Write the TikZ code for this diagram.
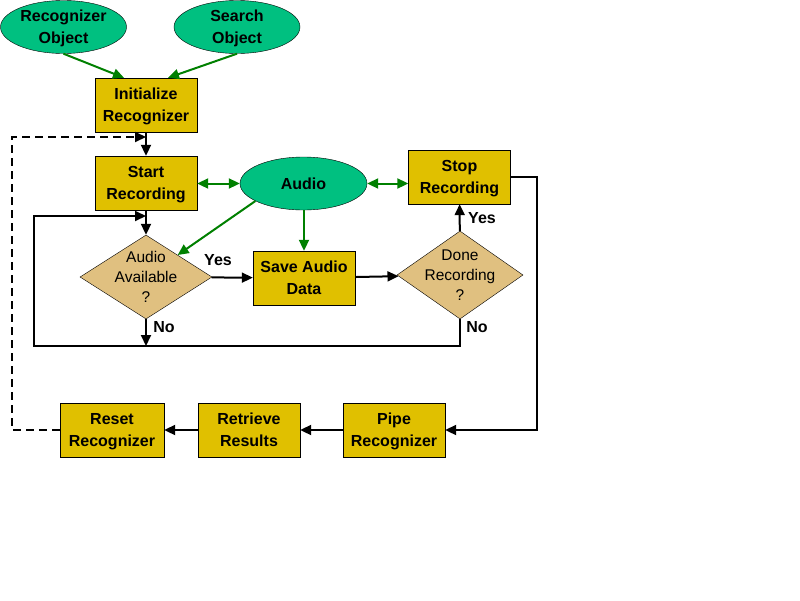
\documentclass[tikz,border=0pt]{standalone}
\usepackage{fontspec}
\setmainfont{Liberation Sans}
\usetikzlibrary{shapes.geometric, arrows.meta}
\definecolor{boxgold}{RGB}{224,192,0}
\definecolor{objgreen}{RGB}{0,192,128}
\definecolor{asktan}{RGB}{224,192,128}
\definecolor{linkgreen}{RGB}{0,128,0}
\tikzset{
  stepbox/.style={draw, fill=boxgold, minimum width=102pt, minimum height=54pt, inner sep=0pt, text depth=0pt, align=center, font=\fontsize{16}{22}\selectfont\bfseries},
  objnode/.style={draw, ellipse, fill=objgreen, minimum width=126pt, minimum height=53pt, inner sep=-2pt, text depth=0pt, align=center, font=\fontsize{16}{22}\selectfont\bfseries},
  asknode/.style={draw, diamond, fill=asktan, aspect=1.5, inner sep=-14pt, align=center, font=\fontsize{15.5}{20}\selectfont},
  answer/.style={inner sep=0pt, font=\fontsize{16}{20}\selectfont\bfseries},
  flow/.style={line width=2pt, -{Triangle[length=11pt,width=10pt]}},
  link/.style={line width=2pt, linkgreen, -{Triangle[length=11pt,width=10pt]}},
  bilink/.style={line width=2pt, linkgreen, {Triangle[length=11pt,width=10pt]}-{Triangle[length=11pt,width=10pt]}}
}
\begin{document}
\begin{tikzpicture}[x=1pt,y=-1pt]
    \useasboundingbox[fill=white] (0,0) rectangle (800,600);
    % objects
    \node[objnode] (recObj) at (63.5,27) {Recognizer\\Object};
    \node[objnode] (srchObj) at (237,27) {Search\\Object};
    \node[objnode, minimum width=127pt] (audio) at (303.5,183.5) {Audio};
    % steps
    \node[stepbox] (init) at (146,105) {Initialize\\Recognizer};
    \node[stepbox] (start) at (146,183) {Start\\Recording};
    \node[stepbox] (stopRec) at (459.5,177) {Stop\\Recording};
    \node[stepbox] (save) at (304,278) {Save Audio\\Data};
    \node[stepbox] (pipe) at (394,430) {Pipe\\Recognizer};
    \node[stepbox] (retrieve) at (249,430) {Retrieve\\Results};
    \node[stepbox, minimum width=104pt] (reset) at (112,430) {Reset\\Recognizer};
    % decisions
    \node[asknode, minimum width=132pt, minimum height=84pt] (avail) at (146,277) {Audio\\Available\\?};
    \node[asknode, minimum width=126pt, minimum height=88pt] (done) at (460,275) {Done\\Recording\\?};
    % answers
    \node[answer] (yesAvail) at (218,260) {Yes};
    \node[answer] (noAvail) at (164,327) {No};
    \node[answer] (yesDone) at (482,218) {Yes};
    \node[answer] (noDone) at (477,327) {No};
    % corners
    \coordinate (loopBL) at (34,346);
    \coordinate (loopTL) at (34,216);
    \coordinate (outR) at (537,430);
    \coordinate (dashTL) at (12,137);
    % green links
    \draw[link] (recObj.south) -- ([xshift=-22pt]init.north);
    \draw[link] (srchObj.south) -- ([xshift=22pt]init.north);
    \draw[bilink] (start.east |- audio) -- (audio.west);
    \draw[bilink] (audio.east) -- (audio.east -| stopRec.west);
    \draw[link] (audio.200) -- (avail);
    \draw[link] (audio.south -| save) -- (save.north);
    % flow
    \draw[flow] (init) -- (start);
    \draw[flow] (start) -- (avail);
    \draw[flow] (avail) -- (save);
    \draw[flow] (save) -- (done);
    \draw[flow] (done) -- (stopRec);
    \draw[flow] (avail.south) -- (avail.south |- loopBL);
    \draw[flow] (done.south) |- (loopBL) -- (loopTL) -- (loopTL -| start);
    \draw[flow] (stopRec.east) -| (outR) -- (pipe.east);
    \draw[flow] (pipe) -- (retrieve);
    \draw[flow] (retrieve) -- (reset);
    \draw[flow, dash pattern=on 8pt off 5pt] (reset.west) -| (dashTL) -- (dashTL -| init);
\end{tikzpicture}
\end{document}
